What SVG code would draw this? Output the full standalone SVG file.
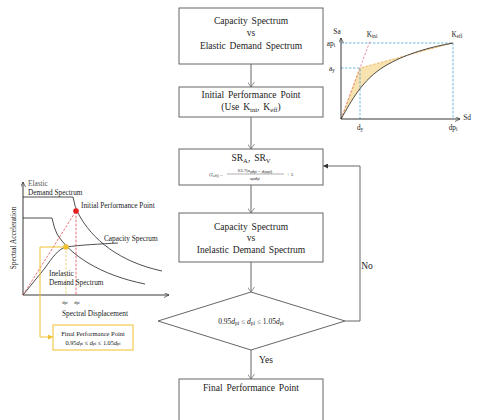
<svg xmlns="http://www.w3.org/2000/svg" width="484" height="420" viewBox="0 0 484 420">
<style>
.box{fill:#fff;stroke:#666;stroke-width:1}
.t{font-family:"Liberation Serif","Times New Roman",serif;fill:#222;text-anchor:middle;dominant-baseline:central}
.f{font-size:9.5px;word-spacing:1.5px}
.s{font-size:7.3px}
.xs{font-size:6.3px}
.con{fill:none;stroke:#666;stroke-width:1}
.ax{fill:none;stroke:#222;stroke-width:0.9}
.cv{fill:none;stroke:#222;stroke-width:0.8}
.blu{fill:none;stroke:#4aa3d6;stroke-width:0.8;stroke-dasharray:2.5 1.5}
.red{fill:none;stroke:#e03030;stroke-width:0.7;stroke-dasharray:2.5 1.5}
.ylw{fill:none;stroke:#f0c030;stroke-width:1}
.sub{font-size:70%}
</style>
<defs>
<marker id="av" viewBox="0 0 10 14" refX="10" refY="7" markerWidth="5" markerHeight="7" orient="auto" markerUnits="userSpaceOnUse"><path d="M0,0 L10,7 L0,14" fill="none" stroke="#666" stroke-width="1.4"/></marker>
<marker id="af" viewBox="0 0 10 10" refX="10" refY="5" markerWidth="5" markerHeight="5" orient="auto" markerUnits="userSpaceOnUse"><path d="M0,0 L10,5 L0,10 Z" fill="#333"/></marker>
<marker id="ak" viewBox="0 0 10 10" refX="10" refY="5" markerWidth="5" markerHeight="5" orient="auto" markerUnits="userSpaceOnUse"><path d="M0,0 L10,5 L0,10" fill="none" stroke="#222" stroke-width="1.3"/></marker>
<marker id="ay" viewBox="0 0 10 10" refX="10" refY="5" markerWidth="5" markerHeight="5" orient="auto" markerUnits="userSpaceOnUse"><path d="M0,0 L10,5 L0,10 Z" fill="#f0c030"/></marker>
</defs>

<g id="connectors">
<path class="con" d="M251,64 V87" marker-end="url(#av)"/>
<path class="con" d="M251,117 V149" marker-end="url(#av)"/>
<path class="con" d="M251,185 V213" marker-end="url(#av)"/>
<path class="con" d="M251,262 V292" marker-end="url(#av)"/>
<path class="con" d="M251,350 V379" marker-end="url(#av)"/>
<path class="con" d="M345,321 H360 V166 H323" marker-end="url(#af)"/>
<text class="t f" x="367" y="266">No</text>
<text class="t f" x="266" y="360">Yes</text>
</g>

<g id="n1">
<rect class="box" x="179" y="8" width="144" height="56"/>
<text class="t f" x="251" y="21">Capacity Spectrum</text>
<text class="t f" x="251" y="33">vs</text>
<text class="t f" x="251" y="46">Elastic Demand Spectrum</text>
</g>

<g id="n2">
<rect class="box" x="179" y="87" width="144" height="30"/>
<text class="t f" x="251" y="95">Initial Performance Point</text>
<text class="t f" x="251" y="107">(Use K<tspan class="sub" dy="2">ini</tspan><tspan dy="-2">, K</tspan><tspan class="sub" dy="2">eff</tspan><tspan dy="-2">)</tspan></text>
</g>

<g id="n3">
<rect class="box" x="179" y="149" width="144" height="36"/>
<text class="t f" x="251" y="158">SR<tspan class="sub" dy="2">A</tspan><tspan dy="-2">, SR</tspan><tspan class="sub" dy="2">V</tspan></text>
<text class="t" style="font-size:5px" x="216" y="174.5">(ξ<tspan class="sub" dy="1">eff</tspan><tspan dy="-1">) =</tspan></text>
<text class="t" style="font-size:4.8px" x="255" y="170.5">63.7(a<tspan class="sub" dy="1">y</tspan><tspan dy="-1">d</tspan><tspan class="sub" dy="1">pi</tspan><tspan dy="-1"> − d</tspan><tspan class="sub" dy="1">y</tspan><tspan dy="-1">a</tspan><tspan class="sub" dy="1">pi</tspan><tspan dy="-1">)</tspan></text>
<line x1="227" y1="174" x2="284" y2="174" stroke="#333" stroke-width="0.4"/>
<text class="t" style="font-size:4.8px" x="255" y="178">a<tspan class="sub" dy="1">pi</tspan><tspan dy="-1">d</tspan><tspan class="sub" dy="1">pi</tspan></text>
<text class="t" style="font-size:5px" x="290" y="174.5">+ 5</text>
</g>

<g id="n4">
<rect class="box" x="179" y="213" width="144" height="49"/>
<text class="t f" x="251" y="227">Capacity Spectrum</text>
<text class="t f" x="251" y="238">vs</text>
<text class="t f" x="251" y="250">Inelastic Demand Spectrum</text>
</g>

<g id="n5">
<polygon class="box" points="251,292 345,321 251,350 158,321"/>
<text class="t" style="font-size:7.5px" x="251" y="321">0.95<tspan font-style="italic">d</tspan><tspan class="sub" dy="1.5">pi</tspan><tspan dy="-1.5"> ≤ </tspan><tspan font-style="italic">d</tspan><tspan class="sub" dy="1.5">pi</tspan><tspan dy="-1.5"> ≤ 1.05</tspan><tspan font-style="italic">d</tspan><tspan class="sub" dy="1.5">pi</tspan></text>
</g>

<g id="n6">
<rect class="box" x="179" y="379" width="144" height="50"/>
<text class="t f" x="251" y="388">Final Performance Point</text>
</g>

<g id="right-chart">
<path d="M341,119 L360,68 L453,43 C430,47 405,54 385,66 C362,80 352,100 341,119 Z" fill="#f7e2b0" stroke="none"/>
<path class="blu" d="M341,43 H453 V119"/>
<path class="blu" d="M341,68 H360 V119"/>
<path d="M341,119 L370,41" fill="none" stroke="#e0608a" stroke-width="0.7" stroke-dasharray="2.5 1.5"/>
<path d="M341,119 L360,68 L453,43" fill="none" stroke="#e8a040" stroke-width="0.7" stroke-dasharray="2.5 1.5"/>
<path class="cv" d="M341,119 C352,100 362,80 385,66 C405,54 430,47 453,43" stroke-width="1"/>
<path class="ax" d="M341,119 V38" marker-end="url(#ak)"/>
<path class="ax" d="M341,119 H460" marker-end="url(#ak)"/>
<text class="t s" x="337" y="31">Sa</text>
<text class="t s" x="467" y="117">Sd</text>
<text class="t s" x="331" y="43">ap<tspan class="sub" dy="1.5">i</tspan></text>
<text class="t s" x="332" y="68">a<tspan class="sub" dy="1.5">y</tspan></text>
<text class="t s" x="360" y="127">d<tspan class="sub" dy="1.5">y</tspan></text>
<text class="t s" x="453" y="127">dp<tspan class="sub" dy="1.5">i</tspan></text>
<text class="t s" x="372" y="34">K<tspan class="sub" dy="1.5">ini</tspan></text>
<text class="t s" x="457" y="34">K<tspan class="sub" dy="1.5">eff</tspan></text>
</g>

<g id="left-chart">
<path class="ax" d="M23,295 V182" marker-end="url(#ak)"/>
<path class="ax" d="M23,295 H169" marker-end="url(#ak)"/>
<path class="cv" d="M23,197 L73,197 Q75,208 78,213 C92,240 120,262 162,271"/>
<path class="cv" d="M23,218 L52,218 Q54,228 57,234 C70,255 100,275 145,284"/>
<path class="cv" d="M23,295 L45,268 C52,258 58,249 66,247 C80,245 100,244 118,243"/>
<path class="red" d="M23,295 L76,211 V295"/>
<path d="M66,247 V295" fill="none" stroke="#e8c040" stroke-width="0.7" stroke-dasharray="2.5 1.5"/>
<path class="ylw" d="M66,247 H40 V337 H53" marker-end="url(#ay)"/>
<circle cx="76" cy="211" r="2.8" fill="#e52020"/>
<circle cx="66" cy="247" r="2.8" fill="#f0c030"/>
<text class="t s" x="28" y="183" style="text-anchor:start;fill:#555">Elastic</text>
<text class="t s" x="28" y="192" style="text-anchor:start">Demand Spectrum</text>
<text class="t s" x="81" y="205" style="text-anchor:start">Initial Performance Point</text>
<text class="t s" x="104" y="238" style="text-anchor:start">Capacity Specrum</text>
<text class="t s" x="49" y="273" style="text-anchor:start">Inelastic</text>
<text class="t s" x="49" y="282" style="text-anchor:start">Demand Spectrum</text>
<text class="t" style="font-size:4.5px" x="65" y="302">dp<tspan class="sub" dy="1">i</tspan></text>
<text class="t" style="font-size:4.5px" x="77" y="302">dp<tspan class="sub" dy="1">i</tspan></text>
<text class="t s" x="95" y="313">Spectral Displacement</text>
<text class="t s" x="0" y="0" transform="translate(13,238) rotate(-90)">Spectral Acceleration</text>
<rect x="53" y="325" width="80" height="25" fill="#fff" stroke="#f0c030" stroke-width="1"/>
<text class="t" style="font-size:6.5px" x="93" y="333">Final Performance Point</text>
<text class="t" style="font-size:6.3px" x="93" y="342">0.95<tspan font-style="italic">d</tspan><tspan class="sub" dy="1">pi</tspan><tspan dy="-1"> ≤ </tspan><tspan font-style="italic">d</tspan><tspan class="sub" dy="1">pi</tspan><tspan dy="-1"> ≤ 1.05</tspan><tspan font-style="italic">d</tspan><tspan class="sub" dy="1">pi</tspan></text>
</g>
</svg>
